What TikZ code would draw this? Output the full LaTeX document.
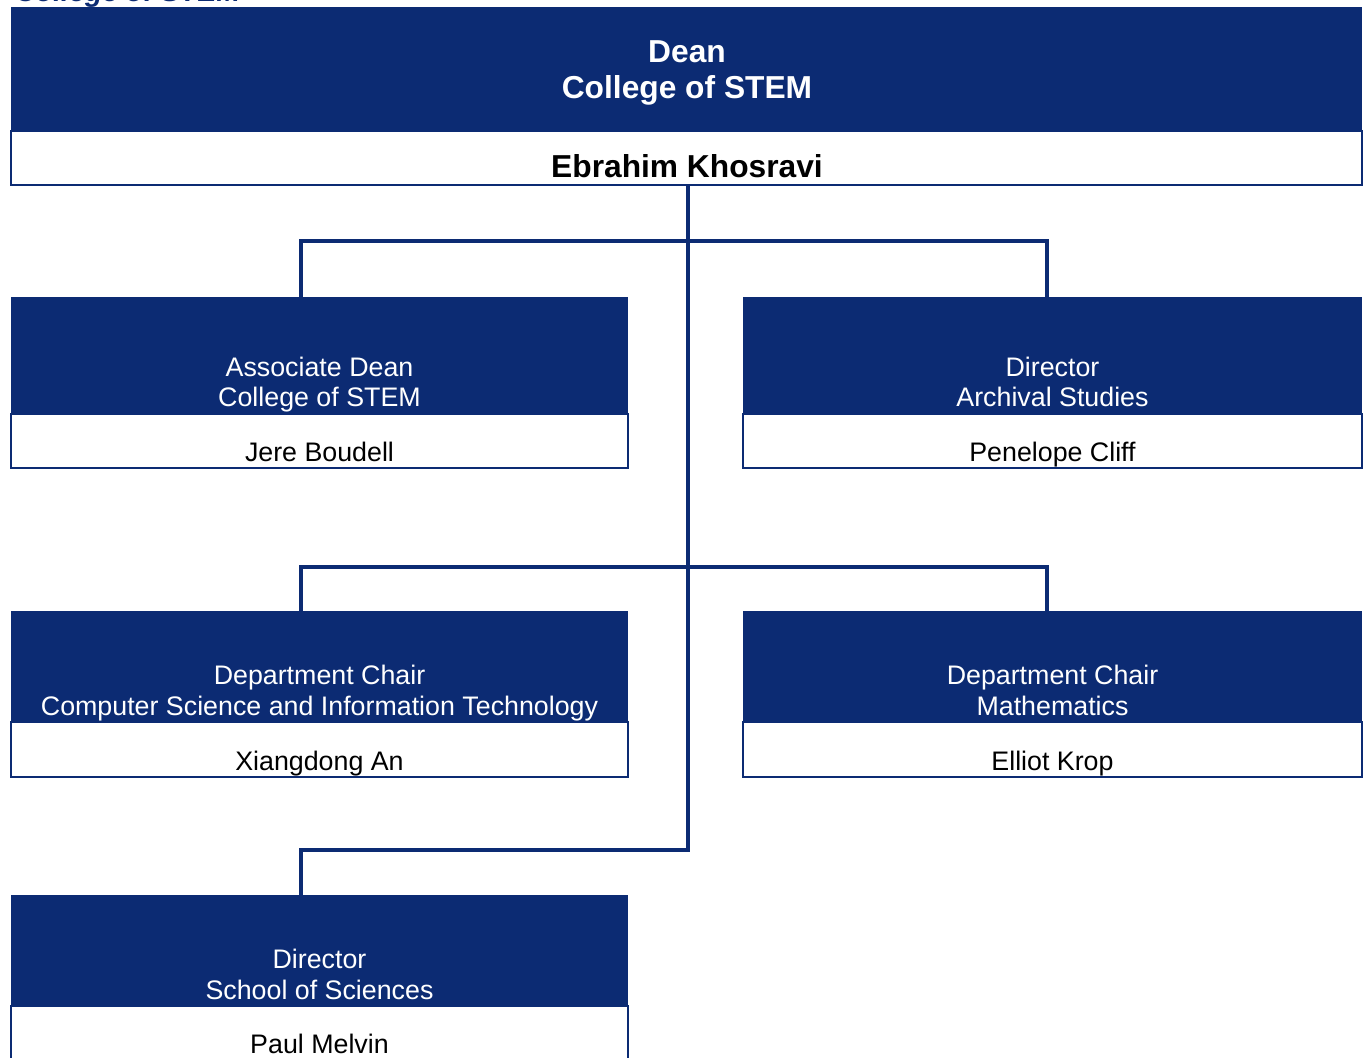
\documentclass[tikz,border=0pt]{standalone}
\usepackage{fontspec}
\setmainfont{Liberation Sans}
\definecolor{stemblue}{RGB}{12,43,115}
\tikzset{
  hdr/.style={fill=stemblue, draw=none, inner sep=0pt, outer sep=0pt, anchor=north west},
  namebox/.style={fill=white, draw=stemblue, line width=1.6pt, inner sep=0pt, outer sep=0pt, anchor=north west},
  conn/.style={draw=stemblue, line width=2.4pt},
  wtxt/.style={text=white, anchor=base, inner sep=0pt, font=\fontsize{20.1pt}{23pt}\selectfont},
  btxt/.style={text=black, anchor=base, inner sep=0pt, font=\fontsize{20.1pt}{23pt}\selectfont},
  wbig/.style={text=white, anchor=base, inner sep=0pt, font=\bfseries\fontsize{23.8pt}{28pt}\selectfont},
  bbig/.style={text=black, anchor=base, inner sep=0pt, font=\bfseries\fontsize{23.8pt}{28pt}\selectfont},
}
\newcommand{\pw}[1]{#1*0.75pt}
\begin{document}
\begin{tikzpicture}[x=0.75pt,y=-0.75pt]
\useasboundingbox (0,0) rectangle (1369,1057);
\fill[white] (0,0) rectangle (1369,1057);

% clipped page title
\node[anchor=base west, inner sep=0pt, text=stemblue, font=\bfseries\itshape\fontsize{21.4pt}{25pt}\selectfont] (pagetitle) at (15,1.5) {College of STEM};

% connectors (drawn first, under boxes)
\coordinate (j1) at (688,241);
\coordinate (j2) at (688,567);
\coordinate (j3) at (688,850);
\coordinate (l1) at (301,241);
\coordinate (r1) at (1047,241);
\coordinate (l2) at (301,567);
\coordinate (r2) at (1047,567);
\coordinate (l3) at (301,850);
\coordinate (t1) at (301,297);
\coordinate (t2) at (1047,297);
\coordinate (t3) at (301,611);
\coordinate (t4) at (1047,611);
\coordinate (t5) at (301,895);
\coordinate (deanbot) at (688,185);

\draw[conn] (deanbot) -- (j3) -- (l3) -- (t5);
\draw[conn] (t1) -- (l1) -- (r1) -- (t2);
\draw[conn] (t3) -- (l2) -- (r2) -- (t4);

% Dean box
\node[hdr, minimum width={\pw{1351}}, minimum height={\pw{124}}] (h0) at (11,7) {};
\node[namebox, minimum width={\pw{1351}}, minimum height={\pw{54}}] (n0) at (11,131) {};
\node[wbig] (h0a) at (687,62.5) {Dean};
\node[wbig] (h0b) at (687,98.5) {College of STEM};
\node[bbig] (n0a) at (687,177) {Ebrahim Khosravi};

% Box 1
\node[hdr, minimum width={\pw{617}}, minimum height={\pw{117}}] (h1) at (11,297) {};
\node[namebox, minimum width={\pw{617}}, minimum height={\pw{54}}] (n1) at (11,414) {};
\node[wtxt] (h1a) at (319.5,376.5) {Associate Dean};
\node[wtxt] (h1b) at (319.5,406) {College of STEM};
\node[btxt] (n1a) at (319.5,461.7) {Jere Boudell};

% Box 2
\node[hdr, minimum width={\pw{619}}, minimum height={\pw{117}}] (h2) at (743,297) {};
\node[namebox, minimum width={\pw{619}}, minimum height={\pw{54}}] (n2) at (743,414) {};
\node[wtxt] (h2a) at (1052.5,376.5) {Director};
\node[wtxt] (h2b) at (1052.5,406) {Archival Studies};
\node[btxt] (n2a) at (1052.5,461.7) {Penelope Cliff};

% Box 3
\node[hdr, minimum width={\pw{617}}, minimum height={\pw{111}}] (h3) at (11,611) {};
\node[namebox, minimum width={\pw{617}}, minimum height={\pw{55}}] (n3) at (11,722) {};
\node[wtxt] (h3a) at (319.5,684.5) {Department Chair};
\node[wtxt] (h3b) at (319.5,715.5) {Computer Science and Information Technology};
\node[btxt] (n3a) at (319.5,770.5) {Xiangdong An};

% Box 4
\node[hdr, minimum width={\pw{619}}, minimum height={\pw{111}}] (h4) at (743,611) {};
\node[namebox, minimum width={\pw{619}}, minimum height={\pw{55}}] (n4) at (743,722) {};
\node[wtxt] (h4a) at (1052.5,684.5) {Department Chair};
\node[wtxt] (h4b) at (1052.5,715.5) {Mathematics};
\node[btxt] (n4a) at (1052.5,770.5) {Elliot Krop};

% Box 5
\node[hdr, minimum width={\pw{617}}, minimum height={\pw{111}}] (h5) at (11,895) {};
\node[namebox, minimum width={\pw{617}}, minimum height={\pw{55}}] (n5) at (11,1006) {};
\node[wtxt] (h5a) at (319.5,968.5) {Director};
\node[wtxt] (h5b) at (319.5,999.5) {School of Sciences};
\node[btxt] (n5a) at (319.5,1053.5) {Paul Melvin};
\end{tikzpicture}
\end{document}
